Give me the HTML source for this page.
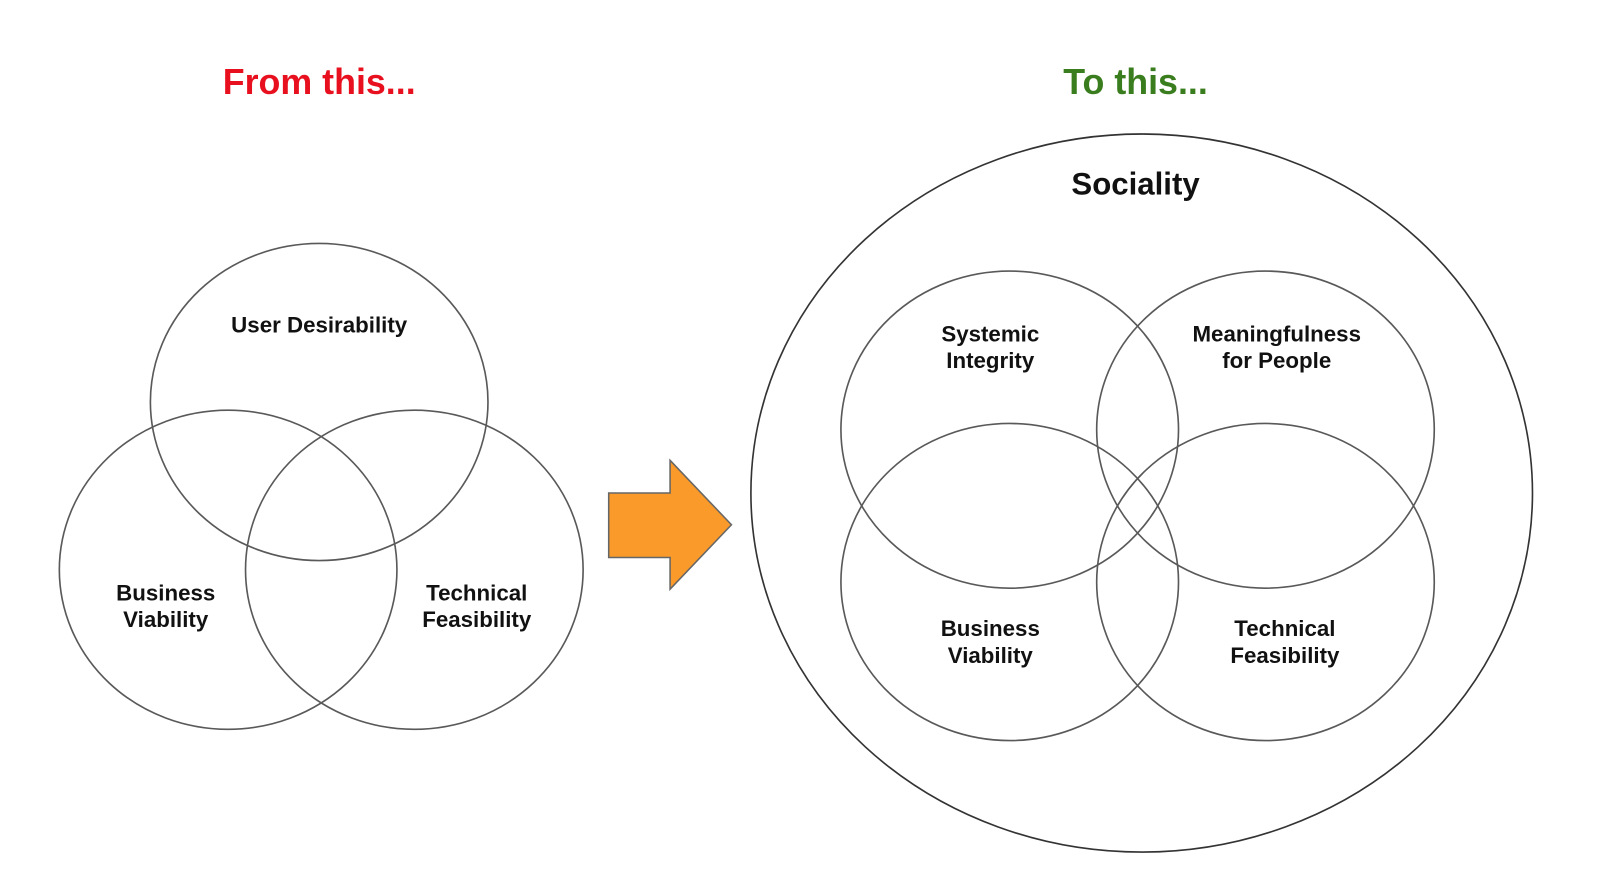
<!DOCTYPE html>
<html><head><style>html,body{margin:0;padding:0;background:#fff;}svg{display:block}</style></head>
<body>
<svg width="1600" height="893" viewBox="0 0 1564 873" preserveAspectRatio="none" xmlns="http://www.w3.org/2000/svg" font-family="Liberation Sans, sans-serif" font-weight="bold">
<g fill="none" stroke="#595959" stroke-width="1.6">
<ellipse cx="312" cy="393" rx="165" ry="155"/>
<ellipse cx="223" cy="557" rx="165" ry="156"/>
<ellipse cx="405" cy="557" rx="165" ry="156"/>
<ellipse cx="1116" cy="482" rx="382" ry="351" stroke="#333"/>
<ellipse cx="987" cy="420" rx="165" ry="155"/>
<ellipse cx="1237" cy="420" rx="165" ry="155"/>
<ellipse cx="987" cy="569" rx="165" ry="155"/>
<ellipse cx="1237" cy="569" rx="165" ry="155"/>
</g>
<polygon points="595,482 655,482 655,450 715,513 655,576 655,545 595,545" fill="#f99a2a" stroke="#666" stroke-width="1.5"/>
<g text-anchor="middle">
<text x="312" y="92" font-size="35" fill="#e8101e">From this...</text>
<text x="1110" y="92" font-size="35" fill="#3a7d1e">To this...</text>
<text x="1110" y="190" font-size="30.5" fill="#111">Sociality</text>
<g font-size="21.8" fill="#111">
<text x="312" y="325">User Desirability</text>
<text x="162" y="587">Business</text><text x="162" y="613">Viability</text>
<text x="466" y="587">Technical</text><text x="466" y="613">Feasibility</text>
<text x="968" y="334">Systemic</text><text x="968" y="360">Integrity</text>
<text x="1248" y="334">Meaningfulness</text><text x="1248" y="360">for People</text>
<text x="968" y="622">Business</text><text x="968" y="648">Viability</text>
<text x="1256" y="622">Technical</text><text x="1256" y="648">Feasibility</text>
</g></g>
</svg>
</body></html>
